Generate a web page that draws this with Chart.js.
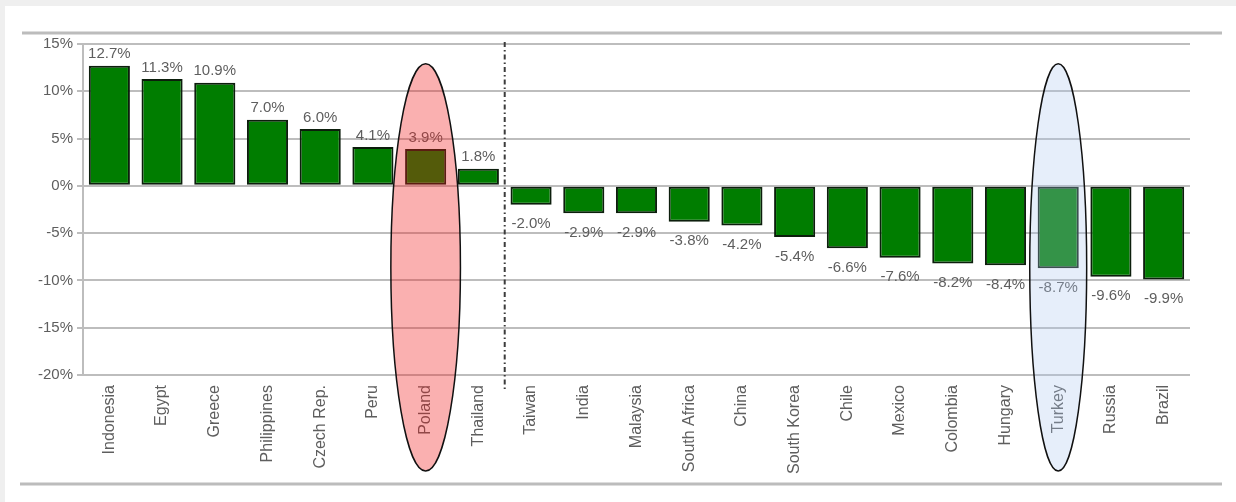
<!DOCTYPE html>
<html>
<head>
<meta charset="utf-8">
<script src="https://cdn.jsdelivr.net/npm/chart.js@4/dist/chart.umd.min.js"></script>
<style>
  html, body { margin: 0; padding: 0; background: #efefef; }
  #wrap { position: relative; width: 1236px; height: 502px; }
</style>
</head>
<body>
<div id="wrap"><canvas id="myChart" width="1236" height="502"></canvas></div>
<script>
(function(){
    'use strict';

    // data
    const countries = ['Indonesia', 'Egypt', 'Greece', 'Philippines', 'Czech Rep.', 'Peru', 'Poland', 'Thailand',
      'Taiwan', 'India', 'Malaysia', 'South Africa', 'China', 'South Korea', 'Chile', 'Mexico',
      'Colombia', 'Hungary', 'Turkey', 'Russia', 'Brazil'];
    const changes = [12.7, 11.3, 10.9, 7.0, 6.0, 4.1, 3.9, 1.8,
      -2.0, -2.9, -2.9, -3.8, -4.2, -5.4, -6.6, -7.6,
      -8.2, -8.4, -8.7, -9.6, -9.9];
    const yTicks = [15, 10, 5, 0, -5, -10, -15, -20];
    const splitAfter = 'Thailand';
    const circled = ['Poland', 'Turkey'];
    const circleFills = ['rgba(240,30,30,0.35)', 'rgba(172,198,238,0.3)'];
    const circleWidths = [0.66, 0.54];

    const textColor = '#5e5e5e';
    const fontFamily = '"Liberation Sans", Arial, sans-serif';
    const labelFont = '15px ' + fontFamily;

    const decor = {
      id: 'decor',
      beforeDraw(chart){
        const ctx = chart.ctx;
        ctx.save();
        ctx.fillStyle = '#efefef';
        ctx.fillRect(0, 0, chart.width, chart.height);
        ctx.fillStyle = '#ffffff';
        ctx.fillRect(5, 6, chart.width - 5, chart.height - 6);
        ctx.strokeStyle = '#bcbcbc';
        ctx.lineWidth = 3;
        ctx.beginPath();
        ctx.moveTo(22, 33); ctx.lineTo(1222, 33);
        ctx.moveTo(20, 484); ctx.lineTo(1222, 484);
        ctx.stroke();
        ctx.restore();
      },
      afterDatasetsDraw(chart){
        const ctx = chart.ctx;
        const meta = chart.getDatasetMeta(0);
        ctx.save();
        ctx.font = labelFont;
        ctx.fillStyle = textColor;
        ctx.textAlign = 'center';
        meta.data.forEach((bar, i) => {
          const v = changes[i];
          const txt = v.toFixed(1) + '%';
          if (v >= 0){
            ctx.textBaseline = 'bottom';
            ctx.fillText(txt, bar.x, bar.y - 4);
          } else {
            ctx.textBaseline = 'top';
            ctx.fillText(txt, bar.x, bar.y + 12);
          }
        });

        // dash-dot divider
        const xs = chart.scales.x;
        const idx = countries.indexOf(splitAfter);
        const xd = (xs.getPixelForValue(idx) + xs.getPixelForValue(idx + 1)) / 2;
        ctx.strokeStyle = '#3c3c3c';
        ctx.lineWidth = 2;
        ctx.setLineDash([5, 3, 1.5, 3]);
        ctx.beginPath();
        ctx.moveTo(xd, chart.chartArea.top - 2);
        ctx.lineTo(xd, chart.chartArea.bottom + 14);
        ctx.stroke();
        ctx.restore();
      },
      afterDraw(chart){
        const ctx = chart.ctx;
        const xs = chart.scales.x;
        const ys = chart.scales.y;
        const cw = xs.getPixelForValue(1) - xs.getPixelForValue(0);
        ctx.save();
        circled.forEach((name, k) => {
          const cx = xs.getPixelForValue(countries.indexOf(name));
          const top = ys.getPixelForValue(12.9);
          const bottom = chart.chartArea.bottom + 96;
          ctx.beginPath();
          ctx.ellipse(cx, (top + bottom) / 2, cw * circleWidths[k], (bottom - top) / 2, 0, 0, Math.PI * 2);
          ctx.fillStyle = circleFills[k];
          ctx.fill();
          ctx.strokeStyle = '#111';
          ctx.lineWidth = 1.5;
          ctx.stroke();
        });
        ctx.restore();
      }
    };

    function createChart(){
      const ctx = document.getElementById('myChart').getContext('2d');
      const myChart = new Chart(ctx, {
          type: 'bar',
          data: {
              labels: countries,
              datasets: [{
                  data: changes,
                  backgroundColor: '#007d00',
                  borderColor: '#0c1e0c',
                  borderWidth: 2,
                  borderSkipped: false,
                  barPercentage: 0.78,
                  categoryPercentage: 1
              }]
          },
          options: {
              responsive: false,
              animation: false,
              events: [],
              layout: { padding: { left: 0, right: 46, top: 44, bottom: 0 } },
              scales: {
                  x: {
                    grid: { display: false, drawTicks: false },
                    border: { display: false },
                    ticks: {
                      autoSkip: false,
                      maxRotation: 90,
                      minRotation: 90,
                      padding: 10,
                      color: textColor,
                      font: { family: fontFamily, size: 16 }
                    },
                    afterFit(scale){ scale.height = 127; }
                  },
                  y: {
                      min: -20,
                      max: 15,
                      afterBuildTicks(scale){
                        scale.ticks = yTicks.map(v => ({ value: v }));
                      },
                      grid: { color: '#bdbdbd', lineWidth: 2, tickLength: 6 },
                      border: { color: '#bdbdbd', width: 2 },
                      ticks: {
                        padding: 4,
                        color: textColor,
                        font: { family: fontFamily, size: 15 },
                        callback: v => v + '%'
                      },
                      afterFit(scale){ scale.width = 83; }
                  }
              },
              plugins: {
                legend: { display: false },
                tooltip: { enabled: false },
                title: { display: false }
              }
          },
          plugins: [decor]
        }
      );
    }

    createChart();
})();
</script>
</body>
</html>
